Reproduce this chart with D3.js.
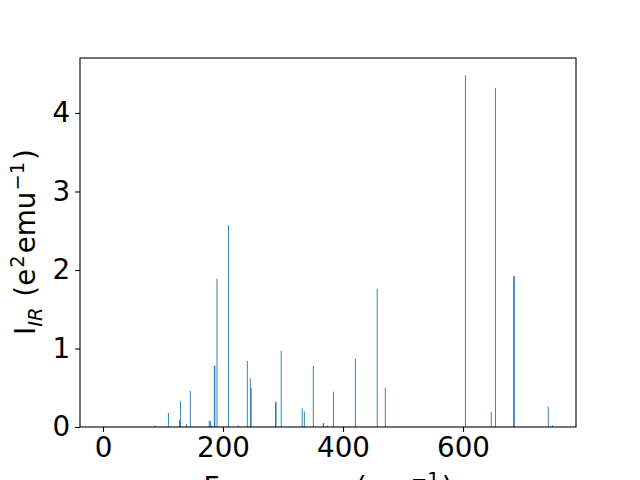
<!DOCTYPE html>
<html>
<head>
<meta charset="utf-8">
<script src="https://cdn.jsdelivr.net/npm/d3@7"></script>
<style>
  body { margin: 0; background: #fff; }
  svg { font-family: "DejaVu Sans", sans-serif; }
</style>
</head>
<body>
<svg width="640" height="480"></svg>
<script>
// frequencies (cm^-1) and IR intensities
const freqs = [87, 109, 127.5, 129, 139, 145.5, 177, 179, 181, 185.5, 186.5, 190, 209, 225.5, 240.5,
	245.5, 247, 287.5, 288.5, 297, 332, 335.5, 350.5, 367, 368, 374, 384, 420.5, 457, 470.5,
	604, 647, 654, 684.5, 685.5, 742, 749];
const intensities = [0.02, 0.18, 0.09, 0.33, 0.04, 0.46, 0.08, 0.08, 0.02, 0.78, 0.78, 1.89, 2.57, 0.02, 0.84,
	0.62, 0.5, 0.32, 0.32, 0.97, 0.24, 0.2, 0.78, 0.05, 0.05, 0.02, 0.45, 0.87, 1.76, 0.5,
	4.48, 0.19, 4.32, 1.92, 1.92, 0.26, 0.02];
const xTicks = [0, 200, 400, 600];
const yTicks = [0, 1, 2, 3, 4];

const svg = d3.select("svg");
const margin = {left: 80, right: 64, top: 58, bottom: 53};
const width = +svg.attr("width");
const height = +svg.attr("height");
const fs = 27.8;

const x = d3.scaleLinear().domain([-38.3, 788.3]).range([margin.left, width - margin.right]);
const y = d3.scaleLinear().domain([0, 4.7]).range([height - margin.bottom, margin.top]);

const barW = 1.5;
svg.append("g")
	.selectAll("rect")
	.data(freqs)
	.enter()
	.append("rect")
		.attr("x", (d) => x(d - barW / 2))
		.attr("width", x(barW) - x(0))
		.attr("y", (d, i) => y(intensities[i]))
		.attr("height", (d, i) => y(0) - y(intensities[i]))
		.attr("fill", "#1f77b4")

const xAxis = svg.append("g")
	.attr("transform", `translate(0,${height - margin.bottom})`)
	.call(d3.axisBottom(x).tickValues(xTicks).tickSize(4.9).tickPadding(4.9).tickFormat(d3.format("d")));
const yAxis = svg.append("g")
	.attr("transform", `translate(${margin.left},0)`)
	.call(d3.axisLeft(y).tickValues(yTicks).tickSize(4.9).tickPadding(4.9).tickFormat(d3.format("d")));

[xAxis, yAxis].forEach(g => {
	g.select(".domain").remove();
	g.selectAll("line").attr("stroke", "#000").attr("stroke-width", 1.1);
	g.selectAll("text").attr("font-size", fs + "px").attr("fill", "#000")
		.attr("font-family", "DejaVu Sans");
});

// frame
svg.append("rect")
	.attr("x", margin.left).attr("y", margin.top)
	.attr("width", width - margin.left - margin.right)
	.attr("height", height - margin.top - margin.bottom)
	.attr("fill", "none").attr("stroke", "#000").attr("stroke-width", 1.1);

const small = (fs * 0.7) + "px";

// x label (mostly cut off at the bottom)
const xl = svg.append("text")
	.attr("x", (margin.left + width - margin.right) / 2)
	.attr("y", 497)
	.attr("text-anchor", "middle")
	.attr("font-size", fs + "px");
xl.append("tspan").text("Frequency (cm");
xl.append("tspan").attr("dx", 2).attr("dy", -11).attr("font-size", small).text("\u22121");
xl.append("tspan").attr("dx", 2).attr("dy", 11).text(")");

// y label
const yl = svg.append("text")
	.attr("transform", `translate(35,242) rotate(-90)`)
	.attr("text-anchor", "middle")
	.attr("font-size", fs + "px");
yl.append("tspan").text("I");
yl.append("tspan").attr("dy", 7).attr("font-size", small).attr("font-style", "italic").text("IR");
yl.append("tspan").attr("dx", 2).attr("dy", -7).text(" (e");
yl.append("tspan").attr("dx", 1).attr("dy", -11).attr("font-size", small).text("2");
yl.append("tspan").attr("dx", 2).attr("dy", 11).text("emu");
yl.append("tspan").attr("dx", 1).attr("dy", -11).attr("font-size", small).text("\u22121");
yl.append("tspan").attr("dx", 2).attr("dy", 11).text(")");
</script>
</body>
</html>
